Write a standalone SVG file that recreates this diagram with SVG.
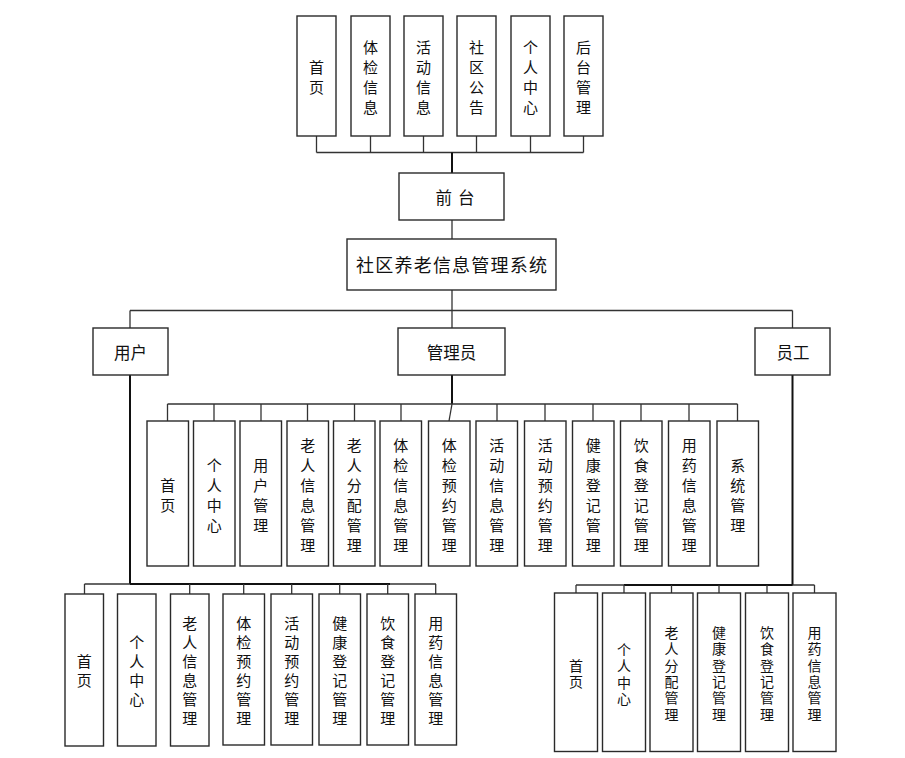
<svg xmlns="http://www.w3.org/2000/svg" width="905" height="758" viewBox="0 0 905 758">
<style>
rect{fill:#fff;stroke:#2a2a2a;stroke-width:1.4}
.c line{stroke:#333;stroke-width:1.3;fill:none}
.c .t{stroke:#111;stroke-width:2}
text{font-family:"Noto Sans CJK SC","Liberation Sans",sans-serif;fill:#111;text-anchor:middle;dominant-baseline:central}
.v{font-size:15px}
.s{font-size:14px}
.h{font-size:16.5px}
</style>
<rect x="0" y="0" width="905" height="758" style="fill:#fff;stroke:none"/>
<g class="c" id="connectors">
<line x1="316.5" y1="136" x2="316.5" y2="152.5"/><line x1="370.5" y1="136" x2="370.5" y2="152.5"/><line x1="423.5" y1="136" x2="423.5" y2="152.5"/><line x1="476.5" y1="136" x2="476.5" y2="152.5"/><line x1="530.5" y1="136" x2="530.5" y2="152.5"/><line x1="583.5" y1="136" x2="583.5" y2="152.5"/>
<line x1="316.5" y1="152.5" x2="583.5" y2="152.5"/>
<line class="t" x1="452" y1="152.5" x2="452" y2="173"/>
<line x1="452" y1="220" x2="452" y2="239"/>
<line x1="452" y1="290" x2="452" y2="328"/>
<line x1="130" y1="310.5" x2="792.5" y2="310.5"/>
<line x1="130" y1="310.5" x2="130" y2="328"/><line x1="792.5" y1="310.5" x2="792.5" y2="328"/>
<line class="t" x1="452" y1="375" x2="452" y2="404"/>
<line x1="167.5" y1="404" x2="737.5" y2="404"/>
<line x1="167.5" y1="404" x2="167.5" y2="421"/><line x1="214" y1="404" x2="214" y2="421"/><line x1="261" y1="404" x2="261" y2="421"/><line x1="307.5" y1="404" x2="307.5" y2="421"/><line x1="354.5" y1="404" x2="354.5" y2="421"/><line x1="401" y1="404" x2="401" y2="421"/><line x1="452" y1="404" x2="449" y2="421"/><line x1="497" y1="404" x2="497" y2="421"/><line x1="545" y1="404" x2="545" y2="421"/><line x1="593" y1="404" x2="593" y2="421"/><line x1="641" y1="404" x2="641" y2="421"/><line x1="689" y1="404" x2="689" y2="421"/><line x1="737.5" y1="404" x2="737.5" y2="421"/>
<line class="t" x1="130" y1="375" x2="130" y2="584"/>
<line x1="84.5" y1="584" x2="436" y2="584"/>
<line class="t" x1="130" y1="584" x2="390" y2="584"/>
<line x1="84.5" y1="584" x2="84.5" y2="594"/><line x1="189.7" y1="584" x2="189.7" y2="594"/><line x1="243.7" y1="584" x2="243.7" y2="594"/><line x1="291.7" y1="584" x2="291.7" y2="594"/><line x1="339.7" y1="584" x2="339.7" y2="594"/><line x1="387.7" y1="584" x2="387.7" y2="594"/><line x1="435.7" y1="584" x2="435.7" y2="594"/>
<line class="t" x1="792.5" y1="375" x2="792.5" y2="585"/>
<line x1="576" y1="585" x2="814.5" y2="585"/>
<line class="t" x1="624" y1="585" x2="792.5" y2="585"/>
<line x1="576" y1="585" x2="576" y2="593"/><line x1="624" y1="585" x2="624" y2="593"/><line x1="671.5" y1="585" x2="671.5" y2="593"/><line x1="719" y1="585" x2="719" y2="593"/><line x1="767" y1="585" x2="767" y2="593"/><line x1="814.5" y1="585" x2="814.5" y2="593"/>
</g>
<g id="top-1"><rect x="297" y="16" width="39" height="120"/><text class="v"><tspan x="316.5" y="66">首</tspan><tspan x="316.5" y="86">页</tspan></text></g>
<g id="top-2"><rect x="351" y="16" width="39" height="120"/><text class="v"><tspan x="370.5" y="46">体</tspan><tspan x="370.5" y="66">检</tspan><tspan x="370.5" y="86">信</tspan><tspan x="370.5" y="106">息</tspan></text></g>
<g id="top-3"><rect x="404" y="16" width="39" height="120"/><text class="v"><tspan x="423.5" y="46">活</tspan><tspan x="423.5" y="66">动</tspan><tspan x="423.5" y="86">信</tspan><tspan x="423.5" y="106">息</tspan></text></g>
<g id="top-4"><rect x="457" y="16" width="39" height="120"/><text class="v"><tspan x="476.5" y="46">社</tspan><tspan x="476.5" y="66">区</tspan><tspan x="476.5" y="86">公</tspan><tspan x="476.5" y="106">告</tspan></text></g>
<g id="top-5"><rect x="511" y="16" width="39" height="120"/><text class="v"><tspan x="530.5" y="46">个</tspan><tspan x="530.5" y="66">人</tspan><tspan x="530.5" y="86">中</tspan><tspan x="530.5" y="106">心</tspan></text></g>
<g id="top-6"><rect x="564" y="16" width="39" height="120"/><text class="v"><tspan x="583.5" y="46">后</tspan><tspan x="583.5" y="66">台</tspan><tspan x="583.5" y="86">管</tspan><tspan x="583.5" y="106">理</tspan></text></g>
<g id="qiantai"><rect x="399" y="173" width="105" height="47"/><text class="h" x="435.5" y="196.5" textLength="39" lengthAdjust="spacing" style="text-anchor:start">前台</text></g>
<g id="system"><rect x="347" y="239" width="209" height="51"/><text x="356" y="264" textLength="191" lengthAdjust="spacing" style="font-size:18px;text-anchor:start">社区养老信息管理系统</text></g>
<g id="user"><rect x="93" y="328" width="75" height="47"/><text class="h" x="130.5" y="351.5">用户</text></g>
<g id="admin"><rect x="398" y="328" width="107" height="47"/><text class="h" x="451.5" y="351.5">管理员</text></g>
<g id="staff"><rect x="755" y="328" width="75" height="47"/><text class="h" x="793" y="351.5">员工</text></g>
<g id="a1"><rect x="147" y="421" width="41.5" height="145"/><text class="v"><tspan x="167.7" y="483.5">首</tspan><tspan x="167.7" y="503.5">页</tspan></text></g>
<g id="a2"><rect x="193.5" y="421" width="41.5" height="145"/><text class="v"><tspan x="214.2" y="463.5">个</tspan><tspan x="214.2" y="483.5">人</tspan><tspan x="214.2" y="503.5">中</tspan><tspan x="214.2" y="523.5">心</tspan></text></g>
<g id="a3"><rect x="240" y="421" width="41.5" height="145"/><text class="v"><tspan x="260.7" y="463.5">用</tspan><tspan x="260.7" y="483.5">户</tspan><tspan x="260.7" y="503.5">管</tspan><tspan x="260.7" y="523.5">理</tspan></text></g>
<g id="a4"><rect x="287" y="421" width="41.5" height="145"/><text class="v"><tspan x="307.7" y="443.5">老</tspan><tspan x="307.7" y="463.5">人</tspan><tspan x="307.7" y="483.5">信</tspan><tspan x="307.7" y="503.5">息</tspan><tspan x="307.7" y="523.5">管</tspan><tspan x="307.7" y="543.5">理</tspan></text></g>
<g id="a5"><rect x="333.5" y="421" width="41.5" height="145"/><text class="v"><tspan x="354.2" y="443.5">老</tspan><tspan x="354.2" y="463.5">人</tspan><tspan x="354.2" y="483.5">分</tspan><tspan x="354.2" y="503.5">配</tspan><tspan x="354.2" y="523.5">管</tspan><tspan x="354.2" y="543.5">理</tspan></text></g>
<g id="a6"><rect x="380" y="421" width="41.5" height="145"/><text class="v"><tspan x="400.7" y="443.5">体</tspan><tspan x="400.7" y="463.5">检</tspan><tspan x="400.7" y="483.5">信</tspan><tspan x="400.7" y="503.5">息</tspan><tspan x="400.7" y="523.5">管</tspan><tspan x="400.7" y="543.5">理</tspan></text></g>
<g id="a7"><rect x="428.5" y="421" width="41.5" height="145"/><text class="v"><tspan x="449.2" y="443.5">体</tspan><tspan x="449.2" y="463.5">检</tspan><tspan x="449.2" y="483.5">预</tspan><tspan x="449.2" y="503.5">约</tspan><tspan x="449.2" y="523.5">管</tspan><tspan x="449.2" y="543.5">理</tspan></text></g>
<g id="a8"><rect x="476" y="421" width="41.5" height="145"/><text class="v"><tspan x="496.7" y="443.5">活</tspan><tspan x="496.7" y="463.5">动</tspan><tspan x="496.7" y="483.5">信</tspan><tspan x="496.7" y="503.5">息</tspan><tspan x="496.7" y="523.5">管</tspan><tspan x="496.7" y="543.5">理</tspan></text></g>
<g id="a9"><rect x="524.5" y="421" width="41.5" height="145"/><text class="v"><tspan x="545.2" y="443.5">活</tspan><tspan x="545.2" y="463.5">动</tspan><tspan x="545.2" y="483.5">预</tspan><tspan x="545.2" y="503.5">约</tspan><tspan x="545.2" y="523.5">管</tspan><tspan x="545.2" y="543.5">理</tspan></text></g>
<g id="a10"><rect x="572.5" y="421" width="41.5" height="145"/><text class="v"><tspan x="593.2" y="443.5">健</tspan><tspan x="593.2" y="463.5">康</tspan><tspan x="593.2" y="483.5">登</tspan><tspan x="593.2" y="503.5">记</tspan><tspan x="593.2" y="523.5">管</tspan><tspan x="593.2" y="543.5">理</tspan></text></g>
<g id="a11"><rect x="620.5" y="421" width="41.5" height="145"/><text class="v"><tspan x="641.2" y="443.5">饮</tspan><tspan x="641.2" y="463.5">食</tspan><tspan x="641.2" y="483.5">登</tspan><tspan x="641.2" y="503.5">记</tspan><tspan x="641.2" y="523.5">管</tspan><tspan x="641.2" y="543.5">理</tspan></text></g>
<g id="a12"><rect x="668.5" y="421" width="41.5" height="145"/><text class="v"><tspan x="689.2" y="443.5">用</tspan><tspan x="689.2" y="463.5">药</tspan><tspan x="689.2" y="483.5">信</tspan><tspan x="689.2" y="503.5">息</tspan><tspan x="689.2" y="523.5">管</tspan><tspan x="689.2" y="543.5">理</tspan></text></g>
<g id="a13"><rect x="717" y="421" width="41.5" height="145"/><text class="v"><tspan x="737.7" y="463.5">系</tspan><tspan x="737.7" y="483.5">统</tspan><tspan x="737.7" y="503.5">管</tspan><tspan x="737.7" y="523.5">理</tspan></text></g>
<g id="u1"><rect x="65" y="594" width="38.5" height="152"/><text class="v"><tspan x="84.2" y="660">首</tspan><tspan x="84.2" y="679">页</tspan></text></g>
<g id="u2"><rect x="117.5" y="594" width="38.5" height="152"/><text class="v"><tspan x="136.7" y="641">个</tspan><tspan x="136.7" y="660">人</tspan><tspan x="136.7" y="679">中</tspan><tspan x="136.7" y="698">心</tspan></text></g>
<g id="u3"><rect x="170.5" y="594" width="38.5" height="152"/><text class="v"><tspan x="189.7" y="622">老</tspan><tspan x="189.7" y="641">人</tspan><tspan x="189.7" y="660">信</tspan><tspan x="189.7" y="679">息</tspan><tspan x="189.7" y="698">管</tspan><tspan x="189.7" y="717">理</tspan></text></g>
<g id="u4"><rect x="223" y="594" width="41.5" height="151"/><text class="v"><tspan x="243.7" y="622">体</tspan><tspan x="243.7" y="641">检</tspan><tspan x="243.7" y="660">预</tspan><tspan x="243.7" y="679">约</tspan><tspan x="243.7" y="698">管</tspan><tspan x="243.7" y="717">理</tspan></text></g>
<g id="u5"><rect x="271" y="594" width="41.5" height="151"/><text class="v"><tspan x="291.7" y="622">活</tspan><tspan x="291.7" y="641">动</tspan><tspan x="291.7" y="660">预</tspan><tspan x="291.7" y="679">约</tspan><tspan x="291.7" y="698">管</tspan><tspan x="291.7" y="717">理</tspan></text></g>
<g id="u6"><rect x="319" y="594" width="41.5" height="151"/><text class="v"><tspan x="339.7" y="622">健</tspan><tspan x="339.7" y="641">康</tspan><tspan x="339.7" y="660">登</tspan><tspan x="339.7" y="679">记</tspan><tspan x="339.7" y="698">管</tspan><tspan x="339.7" y="717">理</tspan></text></g>
<g id="u7"><rect x="367" y="594" width="41.5" height="151"/><text class="v"><tspan x="387.7" y="622">饮</tspan><tspan x="387.7" y="641">食</tspan><tspan x="387.7" y="660">登</tspan><tspan x="387.7" y="679">记</tspan><tspan x="387.7" y="698">管</tspan><tspan x="387.7" y="717">理</tspan></text></g>
<g id="u8"><rect x="415" y="594" width="41.5" height="151"/><text class="v"><tspan x="435.7" y="622">用</tspan><tspan x="435.7" y="641">药</tspan><tspan x="435.7" y="660">信</tspan><tspan x="435.7" y="679">息</tspan><tspan x="435.7" y="698">管</tspan><tspan x="435.7" y="717">理</tspan></text></g>
<g id="s1"><rect x="554.5" y="593" width="43" height="158.5"/><text class="s"><tspan x="576" y="665">首</tspan><tspan x="576" y="681">页</tspan></text></g>
<g id="s2"><rect x="602.5" y="593" width="43" height="158.5"/><text class="s"><tspan x="624" y="648.5">个</tspan><tspan x="624" y="665">人</tspan><tspan x="624" y="681.5">中</tspan><tspan x="624" y="698">心</tspan></text></g>
<g id="s3"><rect x="650" y="593" width="43" height="158.5"/><text class="s"><tspan x="671.5" y="632">老</tspan><tspan x="671.5" y="648.3">人</tspan><tspan x="671.5" y="664.6">分</tspan><tspan x="671.5" y="680.9">配</tspan><tspan x="671.5" y="697.2">管</tspan><tspan x="671.5" y="713.5">理</tspan></text></g>
<g id="s4"><rect x="697.5" y="593" width="43" height="158.5"/><text class="s"><tspan x="719" y="632">健</tspan><tspan x="719" y="648.3">康</tspan><tspan x="719" y="664.6">登</tspan><tspan x="719" y="680.9">记</tspan><tspan x="719" y="697.2">管</tspan><tspan x="719" y="713.5">理</tspan></text></g>
<g id="s5"><rect x="745.5" y="593" width="43" height="158.5"/><text class="s"><tspan x="767" y="632">饮</tspan><tspan x="767" y="648.3">食</tspan><tspan x="767" y="664.6">登</tspan><tspan x="767" y="680.9">记</tspan><tspan x="767" y="697.2">管</tspan><tspan x="767" y="713.5">理</tspan></text></g>
<g id="s6"><rect x="793" y="593" width="43" height="158.5"/><text class="s"><tspan x="814.5" y="632">用</tspan><tspan x="814.5" y="648.3">药</tspan><tspan x="814.5" y="664.6">信</tspan><tspan x="814.5" y="680.9">息</tspan><tspan x="814.5" y="697.2">管</tspan><tspan x="814.5" y="713.5">理</tspan></text></g>
</svg>
